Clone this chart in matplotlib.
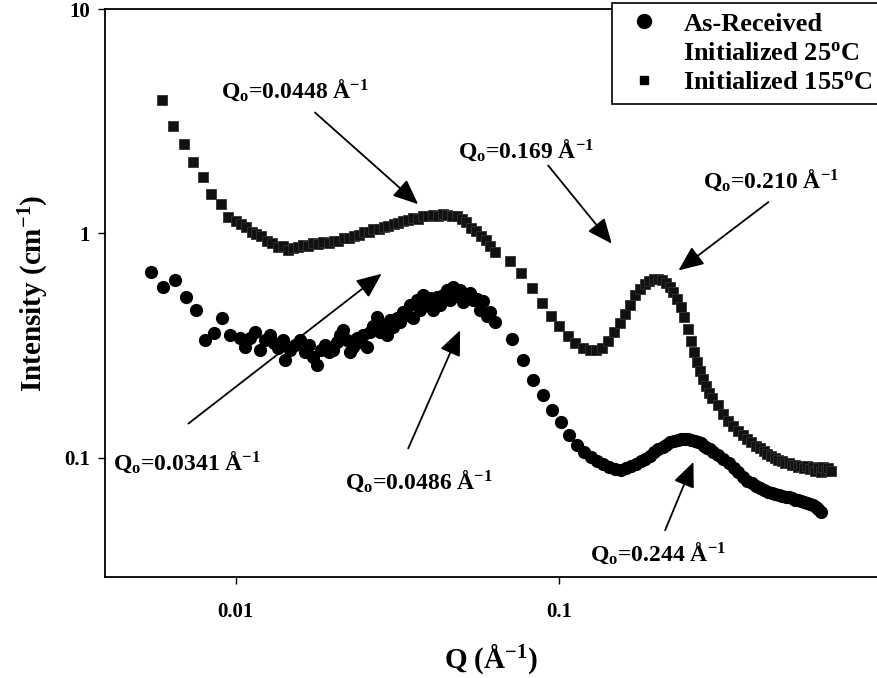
import numpy as np
import matplotlib
matplotlib.use("Agg")
import matplotlib.pyplot as plt
from matplotlib.lines import Line2D

plt.rcParams['font.family'] = ['Liberation Serif', 'DejaVu Serif']
plt.rcParams['font.weight'] = 'bold'
plt.rcParams['axes.labelweight'] = 'bold'
plt.rcParams['mathtext.fontset'] = 'custom'
plt.rcParams['mathtext.rm'] = 'Liberation Serif:bold'
plt.rcParams['mathtext.it'] = 'Liberation Serif:italic:bold'
plt.rcParams['mathtext.bf'] = 'Liberation Serif:bold'

# Initialized 155C (squares)
sq_q = [0.0059, 0.0064, 0.0069, 0.0074, 0.0079, 0.0084, 0.0090, 0.0095,
        0.0100, 0.0104, 0.0108, 0.0112, 0.0116, 0.0120, 0.0125, 0.0130, 0.0135,
        0.0140, 0.0145, 0.0150, 0.0156, 0.0162, 0.0168, 0.0174, 0.0180, 0.0187,
        0.0194, 0.0201, 0.0208, 0.0216, 0.0224, 0.0232, 0.0240, 0.0249, 0.0258,
        0.0267, 0.0277, 0.0287, 0.0297, 0.0308, 0.0319, 0.0330, 0.0342, 0.0354,
        0.0367, 0.0380, 0.0394, 0.0408, 0.0422, 0.0437, 0.0452, 0.0468, 0.0484,
        0.0501, 0.0518, 0.0536, 0.0555, 0.0574, 0.0594, 0.0614, 0.0635,
        0.0705, 0.0765, 0.0825, 0.0885, 0.0945, 0.1005, 0.1065, 0.1125, 0.1185,
        0.1245, 0.1305, 0.1365, 0.1425, 0.1485, 0.1545, 0.1605, 0.1665, 0.1725,
        0.1785, 0.1845, 0.1905, 0.1965, 0.2025, 0.2085, 0.2145, 0.2205, 0.2265,
        0.2325, 0.2385, 0.2445, 0.2505, 0.2565, 0.2625, 0.2685, 0.2745, 0.2805,
        0.2865, 0.2925, 0.2985, 0.3105, 0.3225, 0.3345, 0.3465, 0.3585, 0.3705,
        0.3825, 0.3945, 0.4065, 0.4185, 0.4305, 0.4425, 0.4545, 0.4665, 0.4785,
        0.4905, 0.5025, 0.5145, 0.5265, 0.5385, 0.5505, 0.5625, 0.5745, 0.5865,
        0.5985, 0.6105, 0.6225, 0.6345, 0.6465, 0.6585, 0.6705, 0.6825, 0.6945]
sq_i = [3.94, 3.00, 2.51, 2.09, 1.78, 1.50, 1.35, 1.18,
        1.14, 1.10, 1.07, 1.02, 0.99, 0.975, 0.925, 0.91, 0.87,
        0.875, 0.845, 0.86, 0.87, 0.89, 0.875, 0.905, 0.895, 0.92,
        0.905, 0.925, 0.93, 0.955, 0.95, 0.975, 0.985, 1.015, 1.01,
        1.05, 1.045, 1.07, 1.08, 1.105, 1.11, 1.14, 1.145, 1.17,
        1.165, 1.195, 1.19, 1.21, 1.20, 1.225, 1.21, 1.20, 1.195,
        1.16, 1.125, 1.06, 1.03, 0.97, 0.935, 0.88, 0.83,
        0.75, 0.665, 0.57, 0.49, 0.43, 0.385, 0.35, 0.324, 0.308,
        0.302, 0.302, 0.31, 0.333, 0.362, 0.40, 0.438, 0.48, 0.53,
        0.567, 0.597, 0.614, 0.625, 0.627, 0.618, 0.602, 0.578, 0.547,
        0.512, 0.47, 0.422, 0.376, 0.333, 0.296, 0.266, 0.243, 0.225,
        0.208, 0.195, 0.184, 0.172, 0.157, 0.146, 0.138, 0.131, 0.126,
        0.121, 0.117, 0.113, 0.110, 0.107, 0.104, 0.102, 0.100, 0.098,
        0.097, 0.095, 0.095, 0.093, 0.093, 0.091, 0.092, 0.090, 0.092,
        0.089, 0.091, 0.087, 0.090, 0.086, 0.091, 0.087, 0.090, 0.087]

# As-Received / Initialized 25C (circles)
ci_q = [0.00545, 0.00597, 0.00649, 0.00702, 0.00754, 0.00805, 0.00857, 0.00909, 0.00960,
        0.0103, 0.0107, 0.0111, 0.0115, 0.0119, 0.0123, 0.0128, 0.0131, 0.0135,
        0.0140, 0.0142, 0.0147, 0.0153, 0.0158, 0.0164, 0.0169, 0.0174, 0.0179,
        0.0184, 0.0189, 0.0195, 0.0200, 0.0206, 0.0210, 0.0215, 0.0221, 0.0226,
        0.0231, 0.0237, 0.0243, 0.0248, 0.0255, 0.0261, 0.0266, 0.0274, 0.0280,
        0.0288, 0.0294, 0.0301, 0.0307, 0.0316, 0.0323, 0.0330, 0.0339, 0.0347,
        0.0354, 0.0364, 0.0372, 0.0380, 0.0391, 0.0400, 0.0408, 0.0420, 0.0429,
        0.0438, 0.0451, 0.0461, 0.0471, 0.0484, 0.0495, 0.0506, 0.0520, 0.0531,
        0.0543, 0.0559, 0.0571, 0.0583, 0.0600, 0.0613, 0.0635,
        0.0715, 0.0775, 0.0835, 0.0895, 0.0955, 0.1015, 0.1075, 0.1135, 0.1195,
        0.1255, 0.1315, 0.1375, 0.1435, 0.1495, 0.1555, 0.1615, 0.1675, 0.1735,
        0.1795, 0.1855, 0.1915, 0.1975, 0.2035, 0.2095, 0.2155, 0.2215, 0.2275,
        0.2335, 0.2395, 0.2455, 0.2515, 0.2575, 0.2635, 0.2695, 0.2755, 0.2815,
        0.2875, 0.2935, 0.2995, 0.3115, 0.3235, 0.3355, 0.3475, 0.3595, 0.3715,
        0.3835, 0.3955, 0.4075, 0.4195, 0.4315, 0.4435, 0.4555, 0.4675, 0.4795,
        0.4915, 0.5035, 0.5155, 0.5275, 0.5395, 0.5515, 0.5635, 0.5755, 0.5875,
        0.5995, 0.6115, 0.6235, 0.6355, 0.6475]
ci_i = [0.673, 0.577, 0.618, 0.520, 0.454, 0.336, 0.360, 0.420, 0.351,
        0.341, 0.311, 0.341, 0.362, 0.301, 0.334, 0.351, 0.324, 0.307,
        0.334, 0.272, 0.301, 0.317, 0.334, 0.295, 0.317, 0.280, 0.258,
        0.301, 0.317, 0.295, 0.301, 0.327, 0.351, 0.370, 0.334, 0.295,
        0.311, 0.341, 0.327, 0.351, 0.311, 0.362, 0.385, 0.422, 0.362,
        0.389, 0.351, 0.410, 0.381, 0.418, 0.401, 0.445, 0.431, 0.478,
        0.418, 0.503, 0.454, 0.529, 0.478, 0.513, 0.454, 0.519, 0.478,
        0.529, 0.557, 0.503, 0.575, 0.524, 0.557, 0.493, 0.529, 0.540,
        0.503, 0.510, 0.454, 0.500, 0.427, 0.445, 0.401,
        0.340, 0.273, 0.221, 0.190, 0.164, 0.144, 0.126, 0.114, 0.106,
        0.101, 0.097, 0.094, 0.091, 0.089, 0.0885, 0.090, 0.0915, 0.094,
        0.0965, 0.099, 0.102, 0.106, 0.109, 0.112, 0.114, 0.117, 0.119,
        0.120, 0.121, 0.1215, 0.121, 0.1205, 0.119, 0.118, 0.116, 0.113,
        0.111, 0.109, 0.106, 0.1025, 0.099, 0.095, 0.090, 0.086, 0.082,
        0.079, 0.077, 0.075, 0.0735, 0.0715, 0.0705, 0.0695, 0.069, 0.068,
        0.0675, 0.067, 0.0665, 0.066, 0.065, 0.0645, 0.064, 0.0635, 0.063,
        0.062, 0.0615, 0.0605, 0.059, 0.057]

# annotations: label, text anchor (Q, I), arrow start, arrow tip
notes = [
    (r"Q$_{\rm o}$=0.0448 Å$^{-1}$", (0.00900, 4.03), (0.0176, 3.46), (0.0367, 1.35)),
    (r"Q$_{\rm o}$=0.169 Å$^{-1}$", (0.0488, 2.18), (0.0927, 2.01), (0.1459, 0.90)),
    (r"Q$_{\rm o}$=0.210 Å$^{-1}$", (0.2797, 1.60), (0.4456, 1.38), (0.2347, 0.684)),
    (r"Q$_{\rm o}$=0.0341 Å$^{-1}$", (0.00417, 0.088), (0.00714, 0.142), (0.0283, 0.661)),
    (r"Q$_{\rm o}$=0.0486 Å$^{-1}$", (0.0218, 0.0731), (0.0342, 0.110), (0.0495, 0.370)),
    (r"Q$_{\rm o}$=0.244 Å$^{-1}$", (0.125, 0.0349), (0.2134, 0.0475), (0.2611, 0.0958)),
]

fig = plt.figure(figsize=(8.77, 6.78), dpi=100)
ax = fig.add_axes([0.1197, 0.149, 0.8803, 0.8375])

ax.plot(ci_q, ci_i, 'o', color='k', ms=9.5, mew=0, zorder=2)
ax.plot(sq_q, sq_i, 's', color='#111111', ms=7.2, mew=0.6, mec='#333333', zorder=3)

ax.set_xscale('log')
ax.set_yscale('log')
ax.set_xlim(0.00394, 0.966)
ax.set_ylim(0.0294, 10)
ax.set_xticks([0.01, 0.1])
ax.set_xticklabels(['0.01', '0.1'])
ax.set_yticks([0.1, 1, 10])
ax.set_yticklabels(['0.1', '1', '10'])
ax.minorticks_off()
ax.tick_params(direction='out', length=5, width=1, labelsize=15)
ax.tick_params(axis='x', pad=13)
ax.tick_params(axis='y', pad=6)
for s in ['left', 'bottom', 'top']:
    ax.spines[s].set_linewidth(1.3)
ax.spines['right'].set_visible(False)

ax.set_xlabel(r"Q (Å$^{-1}$)", fontsize=21, labelpad=14)
ax.set_ylabel(r"Intensity (cm$^{-1}$)", fontsize=21, labelpad=9)

for label, txt, start, tip in notes:
    ax.text(txt[0], txt[1], label, fontsize=17, ha='left', va='baseline')
    ax.annotate('', xy=tip, xytext=start,
                arrowprops=dict(arrowstyle='-|>,head_length=0.7,head_width=0.3',
                                color='k', lw=1.3, mutation_scale=22,
                                shrinkA=0, shrinkB=0))

handles = [Line2D([], [], marker='o', color='k', ls='none', ms=10),
           Line2D([], [], ls='none'),
           Line2D([], [], marker='s', color='k', ls='none', ms=6)]
labels = ['As-Received', r'Initialized 25$^{\rm o}$C', r'Initialized 155$^{\rm o}$C']
leg = fig.legend(handles, labels, loc='upper left',
                 bbox_to_anchor=(612 / 877, 1 - 3 / 678),
                 fontsize=19, frameon=True, fancybox=False, framealpha=1,
                 edgecolor='k', handletextpad=0.6, labelspacing=0.22,
                 borderpad=0.35, handlelength=1.75, borderaxespad=0)
leg.get_frame().set_linewidth(1.2)

fig.savefig('out.png', dpi=100)
